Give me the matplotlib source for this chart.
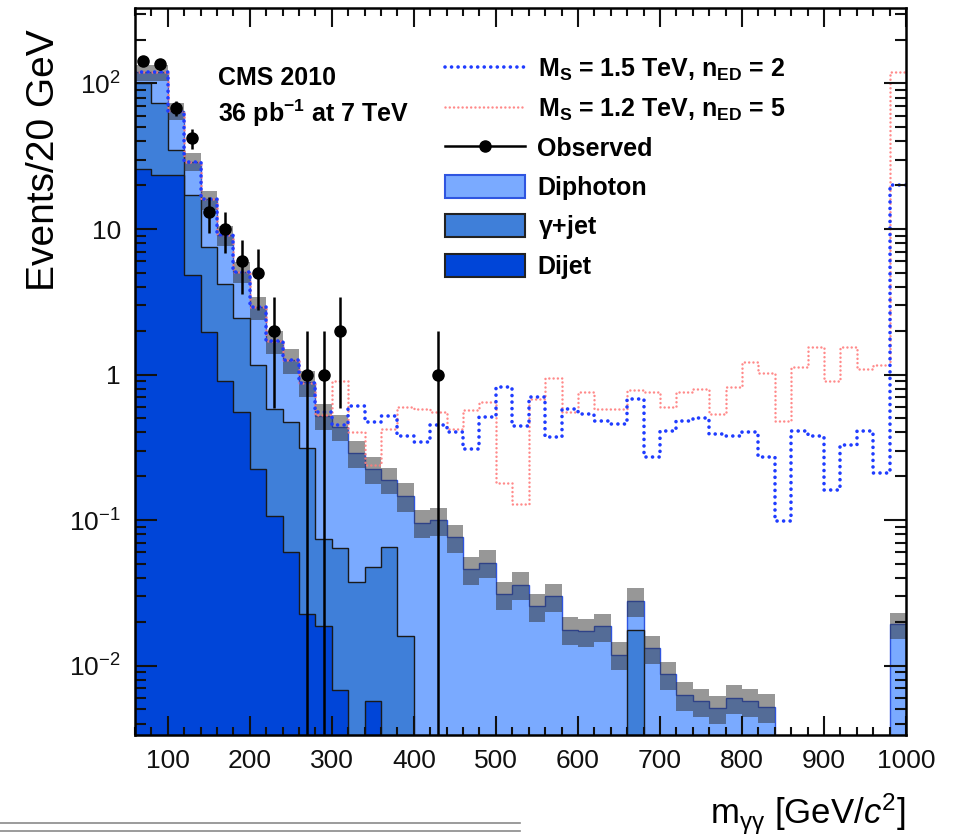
import numpy as np
import matplotlib
matplotlib.use("Agg")
import matplotlib.pyplot as plt
from matplotlib.lines import Line2D
from matplotlib.patches import Patch
from matplotlib.ticker import FixedLocator, FixedFormatter, LogLocator, MultipleLocator, NullFormatter

plt.rcParams['font.family'] = 'Liberation Sans'
plt.rcParams['mathtext.fontset'] = 'custom'
plt.rcParams['mathtext.rm'] = 'Liberation Sans'
plt.rcParams['mathtext.it'] = 'Liberation Sans:italic'
plt.rcParams['mathtext.bf'] = 'Liberation Sans:bold'
plt.rcParams['mathtext.default'] = 'regular'

# 20 GeV bins from 60 to 1000 GeV (last bin holds the overflow)
edges = np.arange(60, 1001, 20)

# background components, events / 20 GeV
dijet = [26, 23.5, 23.5, 4.8, 1.97, 0.91, 0.55, 0.225, 0.107, 0.060,
         0.0226, 0.0187, 0.0068, 0, 0.0057, 0, 0, 0, 0, 0,
         0, 0, 0, 0, 0, 0, 0, 0, 0, 0,
         0, 0, 0, 0, 0, 0, 0, 0, 0, 0,
         0, 0, 0, 0, 0, 0, 0]
gjet = [75, 50.5, 11.5, 12.4, 5.6, 3.3, 1.88, 0.94, 0.47, 0.41,
        0.29, 0.055, 0.058, 0.0375, 0.042, 0.065, 0.0159, 0, 0, 0,
        0, 0, 0, 0, 0, 0, 0, 0, 0, 0,
        0.0177, 0, 0, 0, 0, 0, 0, 0, 0, 0,
        0, 0, 0, 0, 0, 0, 0]
diphoton = [18, 45, 30, 11.8, 8.4, 4.9, 2.67, 1.74, 1.12, 0.78,
            0.57, 0.446, 0.375, 0.25, 0.177, 0.125, 0.131, 0.096, 0.10, 0.076,
            0.046, 0.051, 0.031, 0.036, 0.0256, 0.030, 0.0177, 0.0172, 0.0187, 0.0119,
            0.0101, 0.0132, 0.0087, 0.0063, 0.0057, 0.0051, 0.0060, 0.0057, 0.0052, 0,
            0, 0, 0, 0, 0, 0, 0.0192]
# relative uncertainty on the total background
bkg_unc = [0.12, 0.12, 0.13, 0.14, 0.15, 0.16, 0.17, 0.18, 0.18, 0.19,
           0.20, 0.20, 0.20, 0.21, 0.21, 0.21, 0.22, 0.22, 0.22, 0.22,
           0.22, 0.22, 0.22, 0.22, 0.22, 0.22, 0.22, 0.22, 0.22, 0.22,
           0.22, 0.22, 0.22, 0.22, 0.22, 0.22, 0.22, 0.22, 0.22, 0.22,
           0.22, 0.22, 0.22, 0.22, 0.22, 0.22, 0.20]

# signal + background
ms15_ned2 = [119, 119, 65, 29, 16, 9.1, 5.1, 2.9, 1.7, 1.25,
             0.88, 0.55, 0.45, 0.61, 0.47, 0.52, 0.38, 0.345, 0.45, 0.40,
             0.31, 0.51, 0.82, 0.44, 0.70, 0.37, 0.58, 0.54, 0.48, 0.46,
             0.68, 0.27, 0.41, 0.48, 0.50, 0.39, 0.38, 0.40, 0.27, 0.099,
             0.41, 0.38, 0.16, 0.33, 0.41, 0.21, 20]
ms12_ned5 = [119, 119, 65, 29, 16, 9.1, 5.1, 2.9, 1.7, 1.25,
             0.88, 0.53, 0.9, 0.40, 0.24, 0.42, 0.6, 0.58, 0.55, 0.42,
             0.57, 0.65, 0.18, 0.13, 0.68, 0.94, 0.55, 0.76, 0.58, 0.58,
             0.78, 0.76, 0.60, 0.76, 0.80, 0.54, 0.82, 1.22, 1.02, 0.48,
             1.13, 1.55, 0.91, 1.55, 1.1, 1.16, 120]

# observed events
obs = [143, 136, 68, 42, 13, 10, 6, 5, 2, 0,
       1, 1, 2, 0, 0, 0, 0, 0, 1, 0,
       0, 0, 0, 0, 0, 0, 0, 0, 0, 0,
       0, 0, 0, 0, 0, 0, 0, 0, 0, 0,
       0, 0, 0, 0, 0, 0, 0]

c_dipho = '#7aaaff'
c_gjet = '#3f7fd9'
c_dijet = '#0045d8'
c_blue = '#1f3cff'
c_red = '#ff7d7d'
ls_blue = (0, (0.01, 1.8))
ls_red = (0, (0.01, 1.7))

floor = 1e-6
ymin, ymax = 0.00334, 330

def nz(a):
    a = np.asarray(a, dtype=float)
    return np.where(a > 0, a, floor)

cum1 = np.array(dijet, dtype=float)
cum2 = cum1 + np.array(gjet)
cum3 = cum2 + np.array(diphoton)
unc = np.array(bkg_unc)

fig = plt.figure(figsize=(9.55, 8.39), dpi=100)
ax = fig.add_axes([135 / 955, 1 - 735 / 839, 771 / 955, 727 / 839])

ax.stairs(nz(cum3), edges, baseline=floor, fill=True, facecolor=c_dipho, edgecolor='#2f55e0', lw=1)
ax.stairs(nz(cum2), edges, baseline=floor, fill=True, facecolor=c_gjet, edgecolor='#1a1a1a', lw=1)
ax.stairs(nz(cum1), edges, baseline=floor, fill=True, facecolor=c_dijet, edgecolor='#1a1a1a', lw=1)
ax.stairs(nz(cum3 * (1 + unc)), edges, baseline=nz(cum3 * (1 - unc)), fill=True,
          facecolor='#303030', alpha=0.5, lw=0)

ax.stairs(ms12_ned5, edges, baseline=None, color=c_red, lw=1.8, ls=ls_red,
          capstyle='round', alpha=0.9)
ax.stairs(ms15_ned2, edges, baseline=None, color=c_blue, lw=2.6, ls=ls_blue, capstyle='round')

n = np.array(obs, dtype=float)
centers = 0.5 * (edges[:-1] + edges[1:])
sel = n > 0
lo = n[sel] - np.maximum(n[sel] - np.sqrt(n[sel]), floor)
hi = np.sqrt(n[sel])
ax.errorbar(centers[sel], n[sel], yerr=[lo, hi], fmt='o', color='k', ms=8, lw=1.8, capsize=0, zorder=5)

ax.set_yscale('log')
ax.set_xlim(60, 1000)
ax.set_ylim(ymin, ymax)

ax.xaxis.set_major_locator(MultipleLocator(100))
ax.xaxis.set_minor_locator(MultipleLocator(20))
ax.yaxis.set_major_locator(FixedLocator([0.01, 0.1, 1, 10, 100]))
ax.yaxis.set_major_formatter(FixedFormatter(['10$^{-2}$', '10$^{-1}$', '1', '10', '10$^{2}$']))
ax.yaxis.set_minor_locator(LogLocator(base=10, subs=np.arange(2, 10)))
ax.yaxis.set_minor_formatter(NullFormatter())

ax.tick_params(which='both', direction='in', top=True, right=True, width=1.5, colors='#111')
ax.tick_params(axis='x', which='major', length=14, pad=10, labelsize=19)
ax.tick_params(axis='x', which='minor', length=6)
ax.tick_params(axis='y', which='major', length=16, pad=10, labelsize=19)
ax.tick_params(axis='y', which='minor', length=8)
for sp in ax.spines.values():
    sp.set_linewidth(1.8)

ax.set_ylabel('Events/20 GeV', fontsize=28)
ax.yaxis.set_label_coords(-0.095, 0.79)
ax.set_xlabel(r'm$_{\gamma\gamma}$ [GeV/$\mathit{c}^{2}$]', fontsize=25, loc='right')
ax.xaxis.set_label_coords(1.0, -0.078)

fig.text(218 / 955, 1 - 78 / 839, 'CMS 2010', fontsize=18, weight='bold', va='center')
fig.text(218 / 955, 1 - 113 / 839, '36 pb$^{-1}$ at 7 TeV', fontsize=18, weight='bold', va='center')

handles = [
    Line2D([], [], color=c_blue, lw=2.6, ls=ls_blue, dash_capstyle='round'),
    Line2D([], [], color=c_red, lw=1.8, ls=ls_red, dash_capstyle='round', alpha=0.9),
    Line2D([], [], color='k', marker='o', ms=8, lw=1.8),
    Patch(facecolor=c_dipho, edgecolor='#2f55e0', lw=1.5),
    Patch(facecolor=c_gjet, edgecolor='#222222', lw=1.5),
    Patch(facecolor=c_dijet, edgecolor='#222222', lw=1.5),
]
labels = ['M$_S$ = 1.5 TeV, n$_{ED}$ = 2', 'M$_S$ = 1.2 TeV, n$_{ED}$ = 5',
          'Observed', 'Diphoton', r'$\gamma$+jet', 'Dijet']
ax.legend(handles, labels, loc='upper left', bbox_to_anchor=(445 / 955, 1 - 57 / 839),
          bbox_transform=fig.transFigure, frameon=False,
          prop=dict(family='Liberation Sans', weight='bold', size=18),
          handlelength=3.2, handleheight=1.05, labelspacing=0.53, handletextpad=0.5,
          borderpad=0, borderaxespad=0)

# thin double rule under the plot
for yy in (823, 831):
    fig.add_artist(Line2D([0, 520 / 955], [1 - yy / 839] * 2, transform=fig.transFigure,
                          color='#8a8a8a', lw=1.2))

fig.savefig('out.png', dpi=100)
